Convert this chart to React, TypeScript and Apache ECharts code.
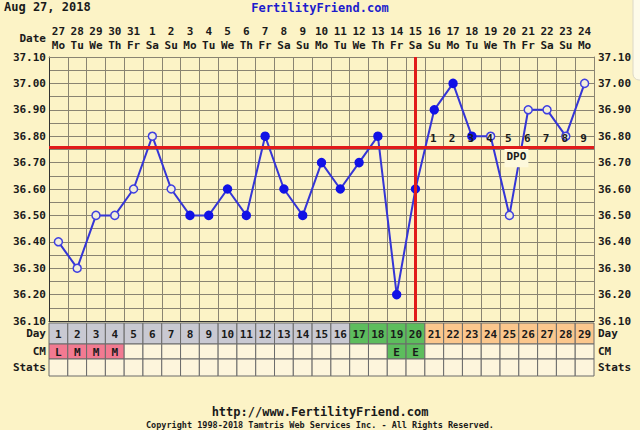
import React, { useEffect, useRef } from 'react';
import * as echarts from 'echarts';

const cycleDays = ['1','2','3','4','5','6','7','8','9','10','11','12','13','14','15','16','17','18','19','20','21','22','23','24','25','26','27','28','29'];
const dates = ['27','28','29','30','31','1','2','3','4','5','6','7','8','9','10','11','12','13','14','15','16','17','18','19','20','21','22','23','24'];
const weekdays = ['Mo','Tu','We','Th','Fr','Sa','Su','Mo','Tu','We','Th','Fr','Sa','Su','Mo','Tu','We','Th','Fr','Sa','Su','Mo','Tu','We','Th','Fr','Sa','Su','Mo'];
const temps = [36.40,36.30,36.50,36.50,36.60,36.80,36.60,36.50,36.50,36.60,36.50,36.80,36.60,36.50,36.70,36.60,36.70,36.80,36.20,36.60,36.90,37.00,36.80,36.80,36.50,36.90,36.90,36.80,37.00];
const filledMarker = [0,0,0,0,0,0,0,1,1,1,1,1,1,1,1,1,1,1,1,1,1,1,1,0,0,0,0,0,0];
const coverline = 36.755;
const ovulationDay = '20';
const fertileDays = ['17','18','19','20'];
const dpoDays = ['21','22','23','24','25','26','27','28','29'];
const dpoNumbers = ['1','2','3','4','5','6','7','8','9'];
const dpoLevel = 36.79;
const dpoLabelDay = '25';
const dpoLabelLevel = 36.722;
const cm = ['L','M','M','M','','','','','','','','','','','','','','','E','E','','','','','','','','',''];
const stats = cycleDays.map(() => '');

const FONT = '"DejaVu Sans Mono", monospace';
const BG = '#fcf3c6';
const GRID = '#8a8472';
const TXT = '#1a1a1a';

const dayColor = (d: string) => {
  if (fertileDays.includes(d)) return '#5dbd5d';
  if (Number(d) < Number(fertileDays[0])) return '#c9c9d2';
  return '#fbc78d';
};
const cmColor = (v: string) => (v === 'L' || v === 'M') ? '#f27a91' : v === 'E' ? '#5dbd5d' : '#fdf5dc';

function cellSeries(gridIdx: number, texts: string[], colors: string[]) {
  return {
    type: 'custom',
    xAxisIndex: gridIdx,
    yAxisIndex: (gridIdx - 1) * 2,
    data: cycleDays.map((_, i) => [i, 0]),
    renderItem: (params: any, api: any) => {
      const c = api.coord([api.value(0), 0]);
      const s = api.size([1, 1]);
      const i = params.dataIndex;
      return {
        type: 'group',
        children: [
          { type: 'rect', shape: { x: c[0] - s[0] / 2, y: c[1] - s[1] / 2, width: s[0], height: s[1] }, style: { fill: colors[i], stroke: '#6b6b6b', lineWidth: 1 } },
          { type: 'text', style: { text: texts[i], x: c[0], y: c[1] + 1, align: 'center', verticalAlign: 'middle', font: `bold 11px ${FONT}`, fill: TXT } },
        ],
      };
    },
  };
}

export default function App() {
  const ref = useRef<HTMLDivElement>(null);
  useEffect(() => {
    if (!ref.current) return;
    const chart = echarts.init(ref.current, undefined, { renderer: 'svg' });
    const labelStyle = { color: TXT, fontFamily: FONT, fontWeight: 'bold' as const, fontSize: 11 };
    const tableGrids = [
      { top: 323, height: 21, name: 'Day' },
      { top: 344, height: 15, name: 'CM' },
      { top: 359, height: 17, name: 'Stats' },
    ];
    const grids: any[] = [
      { left: 49, right: 46, top: 57, height: 264, show: true, backgroundColor: BG, borderWidth: 0 },
      ...tableGrids.map((g) => ({ left: 49, right: 46, top: g.top, height: g.height })),
    ];
    const xAxes: any[] = [
      {
        type: 'category', gridIndex: 0, data: cycleDays, position: 'bottom',
        axisLabel: { show: false }, axisTick: { show: false },
        axisLine: { lineStyle: { color: '#333', width: 1 } },
        splitLine: { show: true, interval: 0, lineStyle: { color: GRID, width: 1 } },
      },
      ...tableGrids.map((_, k) => ({ type: 'category', gridIndex: k + 1, data: cycleDays, show: false })),
      {
        type: 'category', gridIndex: 0, data: dates, position: 'top',
        axisLabel: { ...labelStyle, interval: 0, margin: 5, lineHeight: 14, formatter: (v: string, i: number) => `${v}\n${weekdays[i]}` },
        axisTick: { show: false },
        axisLine: { lineStyle: { color: GRID, width: 1 } },
        splitLine: { show: false },
      },
    ];
    const mainY = (pos: string) => ({
      type: 'value', gridIndex: 0, position: pos, min: 36.1, max: 37.1, interval: 0.1,
      axisLabel: { ...labelStyle, margin: pos === 'left' ? 3 : 4, formatter: (v: number) => v.toFixed(2) },
      axisTick: { show: false },
      axisLine: { show: true, lineStyle: { color: pos === 'left' ? '#333' : GRID, width: 1 } },
      splitLine: { show: pos === 'left', lineStyle: { color: GRID, width: 1 } },
      minorTick: { show: false, splitNumber: 2 },
      minorSplitLine: { show: pos === 'left', lineStyle: { color: GRID, width: 1 } },
    });
    const yAxes: any[] = [];
    tableGrids.forEach((g, k) => {
      ['left', 'right'].forEach((pos) => {
        yAxes.push({
          type: 'category', gridIndex: k + 1, position: pos, data: [g.name],
          axisLine: { show: false }, axisTick: { show: false }, splitLine: { show: false },
          axisLabel: { ...labelStyle, margin: pos === 'left' ? 3 : 4 },
        });
      });
    });
    const mainLeftIdx = yAxes.length;
    yAxes.push(mainY('left'), mainY('right'));

    const textSeries = (name: string, data: any[], z: number, dx: number, withBg: boolean) => ({
      type: 'custom', name, xAxisIndex: 0, yAxisIndex: mainLeftIdx, z, silent: true,
      data,
      renderItem: (params: any, api: any) => {
        const c = api.coord([api.value(0), api.value(1)]);
        const item = data[params.dataIndex];
        return {
          type: 'text',
          style: {
            text: item.name, x: c[0] + dx, y: c[1], align: 'center', verticalAlign: 'middle',
            font: `bold 11px ${FONT}`, fill: TXT,
            ...(withBg ? { backgroundColor: '#fdf8dc', padding: [5, 2, 5, 2] } : {}),
          },
        };
      },
    });

    const series: any[] = [
      {
        type: 'line', name: 'BBT', xAxisIndex: 0, yAxisIndex: mainLeftIdx, z: 2,
        data: temps.map((t, i) => ({
          value: t,
          itemStyle: filledMarker[i]
            ? { color: '#1212e6', borderColor: '#1212e6', borderWidth: 1.5 }
            : { color: '#f2eedb', borderColor: '#4040e0', borderWidth: 1.5 },
        })),
        symbol: 'circle', symbolSize: 8, showAllSymbol: true,
        lineStyle: { color: '#3535d6', width: 2 },
      },
      textSeries('DPO', [{ value: [dpoLabelDay, dpoLabelLevel], name: 'DPO' }], 3, 7, true),
      {
        type: 'line', name: 'lines', xAxisIndex: 0, yAxisIndex: mainLeftIdx, z: 4, data: [],
        markLine: {
          silent: true, symbol: ['none', 'none'], label: { show: false },
          lineStyle: { color: '#e11b1b', width: 3, type: 'solid' },
          data: [{ yAxis: coverline }, { xAxis: ovulationDay }],
        },
      },
      textSeries('DPO numbers', dpoDays.map((d, k) => ({ value: [d, dpoLevel], name: dpoNumbers[k] })), 6, -1, false),
      cellSeries(1, cycleDays, cycleDays.map(dayColor)),
      cellSeries(2, cm, cm.map(cmColor)),
      cellSeries(3, stats, stats.map(() => '#fdf5dc')),
    ];

    chart.setOption({
      animation: false,
      backgroundColor: BG,
      grid: grids,
      xAxis: xAxes,
      yAxis: yAxes,
      series,
      graphic: [
        { type: 'text', left: 4, top: 1, style: { text: 'Aug 27, 2018', font: `bold 12px ${FONT}`, fill: TXT } },
        { type: 'text', x: 320, y: 8, style: { text: 'FertilityFriend.com', font: `bold 12px ${FONT}`, fill: '#1c1ccc', align: 'center', verticalAlign: 'middle' } },
        { type: 'text', x: 46, y: 38, style: { text: 'Date', font: `bold 11px ${FONT}`, fill: TXT, align: 'right', verticalAlign: 'middle' } },
        { type: 'text', x: 320, y: 412, style: { text: 'http://www.FertilityFriend.com', font: `bold 12px ${FONT}`, fill: TXT, align: 'center', verticalAlign: 'middle' } },
        { type: 'text', x: 320, y: 424.5, style: { text: 'Copyright 1998-2018 Tamtris Web Services Inc. - All Rights Reserved.', font: `bold 8.5px ${FONT}`, fill: TXT, align: 'center', verticalAlign: 'middle' } },
        { type: 'rect', shape: { x: 633, y: -10, width: 30, height: 90, r: 6 }, style: { fill: '#fefbe9', stroke: '#dcd8c8', lineWidth: 1 } },
      ],
    });
    return () => chart.dispose();
  }, []);
  return <div ref={ref} style={{ position: 'fixed', left: 0, top: 0, width: 640, height: 430, background: BG }} />;
}
